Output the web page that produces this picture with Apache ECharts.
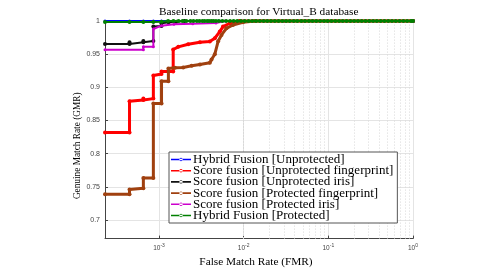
<!DOCTYPE html>
<html><head><meta charset="utf-8">
<script src="https://cdn.jsdelivr.net/npm/echarts@6/dist/echarts.min.js"></script>
<style>html,body{margin:0;padding:0;background:#fff}#c{width:498px;height:273px}</style>
</head><body><div id="c"></div>
<script>
const titleText = 'Baseline comparison for Virtual_B database';
const xName = 'False Match Rate (FMR)';
const yName = 'Genuine Match Rate (GMR)';
const seriesNames = ['Hybrid Fusion [Unprotected]','Score fusion [Unprotected fingerprint]','Score fusion [Unprotected iris]','Score fusion [Protected fingerprint]','Score fusion [Protected iris]','Hybrid Fusion [Protected]'];
const yTicks = [0.7,0.75,0.8,0.85,0.9,0.95,1];
const xMinorGrid = [3e-4,4e-4,5e-4,6e-4,7e-4,8e-4,9e-4,2e-3,3e-3,4e-3,5e-3,6e-3,7e-3,8e-3,9e-3,2e-2,3e-2,4e-2,5e-2,6e-2,7e-2,8e-2,9e-2,2e-1,3e-1,4e-1,5e-1,6e-1,7e-1,8e-1,9e-1];

const blueX = [2.3e-4,4.48e-4,6.53e-4,8.57e-4,1.07e-3,2e-3,5e-3,1e-2,3e-2,0.1,0.3,1];
const blueY = [1,1,1,1,1,1,1,1,1,1,1,1];

const redX = [2.3e-4,4.48e-4,4.48e-4,6.53e-4,6.53e-4,8.57e-4,8.57e-4,1.07e-3,1.07e-3,1.47e-3,1.47e-3,1.69e-3,2.21e-3,3.04e-3,3.98e-3,4.56e-3,5.22e-3,5.7e-3,6.84e-3,8.97e-3,1];
const redY = [0.832,0.832,0.879,0.881,0.883,0.883,0.918,0.920,0.924,0.924,0.957,0.961,0.965,0.968,0.969,0.974,0.984,0.9916,0.9966,1,1];

const blackX = [2.3e-4,4.48e-4,4.48e-4,6.53e-4,6.53e-4,8.57e-4,8.57e-4,1.07e-3,1.07e-3,1.3e-3,1.6e-3,2e-3,1];
const blackY = [0.9655,0.9655,0.968,0.968,0.970,0.970,0.9916,0.9926,0.9966,0.998,0.999,1,1];

const brownX = [2.3e-4,4.48e-4,4.48e-4,6.53e-4,6.53e-4,8.57e-4,8.57e-4,1.07e-3,1.07e-3,1.29e-3,1.29e-3,1.54e-3,1.93e-3,2.43e-3,3.04e-3,3.98e-3,4.17e-3,4.56e-3,4.99e-3,5.47e-3,6.25e-3,7.45e-3,9.82e-3,1.35e-2,1];
const brownY = [0.739,0.739,0.746,0.748,0.7634,0.7634,0.8757,0.8757,0.909,0.909,0.9285,0.9295,0.930,0.9325,0.9345,0.937,0.942,0.950,0.9694,0.979,0.989,0.994,0.998,1,1];

const magentaX = [2.3e-4,6.53e-4,6.53e-4,8.57e-4,8.57e-4,1.07e-3,1.5e-3,2.5e-3,4.7e-3,6e-3,1];
const magentaY = [0.9566,0.9566,0.961,0.961,0.988,0.993,0.995,0.996,0.997,1,1];

const greenX = [2.3e-4,4.48e-4,6.53e-4,8.57e-4,1.07e-3,1.28e-3,1.48e-3,1.7e-3,1.9e-3,2.1e-3,2.35e-3,2.55e-3,2.8e-3,3.0e-3,3.25e-3,3.45e-3,3.7e-3,3.9e-3,4.15e-3,4.4e-3,4.7e-3,5.1e-3,5.6e-3,6.2e-3,6.9e-3,7.6e-3,8.4e-3,9.3e-3,1.03e-2,1.14e-2,1.26e-2,1.4e-2,1.55e-2,1.72e-2,1.9e-2,2.1e-2,2.33e-2,2.58e-2,2.86e-2,3.17e-2,3.5e-2,3.9e-2,4.3e-2,4.8e-2,5.3e-2,5.9e-2,6.5e-2,7.2e-2,8.0e-2,8.9e-2,9.8e-2,0.109,0.121,0.134,0.148,0.164,0.182,0.202,0.224,0.248,0.275,0.305,0.338,0.374,0.415,0.46,0.51,0.565,0.626,0.694,0.77,0.853,0.945,1];
const greenY = [0.9985,0.9985,0.9985,0.9985,0.999,1,1,1,1,1,1,1,1,1,1,1,1,1,1,1,1,1,1,1,1,1,1,1,1,1,1,1,1,1,1,1,1,1,1,1,1,1,1,1,1,1,1,1,1,1,1,1,1,1,1,1,1,1,1,1,1,1,1,1,1,1,1,1,1,1,1,1,1,1];

const colors = ['#0000ff','#ff0000','#111111','#a0400f','#cc00cc','#008000'];
const widths = [2,3,2,3,2,2];
const sizes = [3,4,4,4,3,4];
const xs = [blueX,redX,blackX,brownX,magentaX,greenX];
const ys = [blueY,redY,blackY,brownY,magentaY,greenY];
const zip = (a,b)=>a.map((v,i)=>[v,b[i]]);

const serif = '"Liberation Serif","DejaVu Serif",serif';
const sans = '"Liberation Sans",Arial,sans-serif';
const legendIcon = 'path://M0,9.2 L20,9.2 L20,10.8 L0,10.8 Z M8.3,10 A1.7,1.7 0 1,0 11.7,10 A1.7,1.7 0 1,0 8.3,10 Z';

const series = seriesNames.map((n,i)=>({
  name:n, type:'line', data: zip(xs[i],ys[i]), clip:false,
  symbol:'circle', symbolSize:sizes[i], showSymbol:true,
  lineStyle:{color:colors[i],width:widths[i]}, itemStyle:{color:colors[i]},
  animation:false, z:2+i
}));
series.unshift({
  type:'line', data:[], silent:true, animation:false, z:1,
  markLine:{silent:true, z:1, symbol:['none','none'], label:{show:false},
    lineStyle:{type:[1,2],color:'#d8d8d8',width:1},
    data: xMinorGrid.map(v=>({xAxis:v}))}
});

const chart = echarts.init(document.getElementById('c'),null,{renderer:'canvas'});
chart.setOption({
  animation:false,
  backgroundColor:'#fff',
  title:{text:titleText,left:154,top:2,textStyle:{fontFamily:serif,fontSize:11.3,fontWeight:'normal',color:'#000'}},
  grid:{left:105,right:85,top:21,bottom:30},
  xAxis:{type:'log',logBase:10,min:2.3e-4,max:1,
    name:xName,nameLocation:'middle',nameGap:14,
    nameTextStyle:{fontFamily:serif,fontSize:11.3,color:'#000',padding:[0,6,0,0]},
    axisLine:{lineStyle:{color:'#444',width:1}},
    axisTick:{show:true,inside:true,length:3,lineStyle:{color:'#444'}},
    splitLine:{show:true,lineStyle:{color:'#e4e4e4',width:1}},
    axisLabel:{showMinLabel:false,margin:5,color:'#444',
      formatter:function(v){const e=Math.round(Math.log10(v));return '{b|10}{s|'+e+'}';},
      rich:{b:{fontFamily:sans,fontSize:6.5,color:'#444'},s:{fontFamily:sans,fontSize:5,color:'#444',padding:[0,0,5,0]}}}
  },
  yAxis:{type:'value',min:0.672,max:1,
    name:yName,nameLocation:'middle',nameGap:23,nameMoveOverlap:false,
    nameTextStyle:{fontFamily:serif,fontSize:9.3,color:'#000',padding:[0,32,0,0]},
    axisLine:{show:true,lineStyle:{color:'#444',width:1}},
    axisTick:{show:true,inside:true,length:3,customValues:yTicks,lineStyle:{color:'#444'}},
    splitLine:{show:true,lineStyle:{color:'#e4e4e4',width:1}},
    axisLabel:{customValues:yTicks,margin:5,fontFamily:sans,fontSize:7,color:'#444'}
  },
  legend:{orient:'vertical',left:169,top:152,padding:[1,4,1,2],z:50,
    backgroundColor:'#fff',borderColor:'#555',borderWidth:1,borderRadius:0,
    icon:legendIcon,
    itemWidth:20,itemHeight:10,itemGap:-1.8,
    data:seriesNames,
    textStyle:{fontFamily:serif,fontSize:13,lineHeight:11.6,color:'#000',padding:[0,0,0,-3]}},
  series:series
});
</script></body></html>
